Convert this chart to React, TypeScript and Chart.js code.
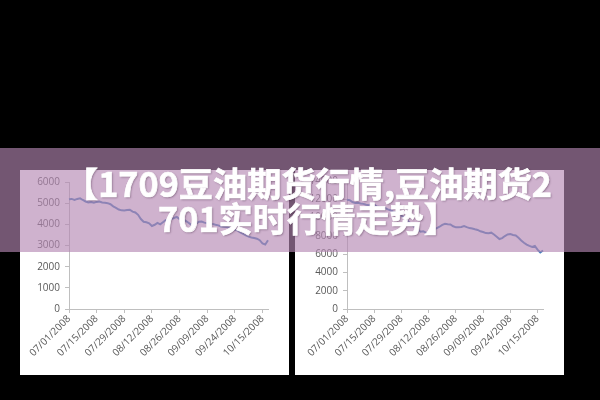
import React, { useEffect, useRef } from "react";
import { Chart, registerables } from "chart.js";

Chart.register(...registerables);

// trading days (category axis), a label is shown every 10th day
const tradingDates: string[] = [
  "07/01/2008", "07/02/2008", "07/03/2008", "07/04/2008", "07/07/2008", "07/08/2008", "07/09/2008", "07/10/2008", "07/11/2008", "07/14/2008",
  "07/15/2008", "07/16/2008", "07/17/2008", "07/18/2008", "07/21/2008", "07/22/2008", "07/23/2008", "07/24/2008", "07/25/2008", "07/28/2008",
  "07/29/2008", "07/30/2008", "07/31/2008", "08/01/2008", "08/04/2008", "08/05/2008", "08/06/2008", "08/07/2008", "08/08/2008", "08/11/2008",
  "08/12/2008", "08/13/2008", "08/14/2008", "08/15/2008", "08/18/2008", "08/19/2008", "08/20/2008", "08/21/2008", "08/22/2008", "08/25/2008",
  "08/26/2008", "08/27/2008", "08/28/2008", "08/29/2008", "09/01/2008", "09/02/2008", "09/03/2008", "09/04/2008", "09/05/2008", "09/08/2008",
  "09/09/2008", "09/10/2008", "09/11/2008", "09/12/2008", "09/16/2008", "09/17/2008", "09/18/2008", "09/19/2008", "09/22/2008", "09/23/2008",
  "09/24/2008", "09/25/2008", "09/26/2008", "10/06/2008", "10/07/2008", "10/08/2008", "10/09/2008", "10/10/2008", "10/13/2008", "10/14/2008",
  "10/15/2008", "10/16/2008", "10/17/2008",
];

// left chart series (0 - 6000)
const leftSeries: number[] = [
  5180, 5200, 5150, 5200, 5230, 5150, 5080, 5030, 5050, 5020,
  5060, 5080, 5030, 5020, 5000, 4950, 4850, 4780, 4700, 4660,
  4650, 4680, 4690, 4600, 4560, 4450, 4250, 4120, 4100, 4050,
  3920, 3980, 4070, 4000, 4100, 4200, 4180, 4250, 4300, 4350,
  4250, 4200, 4180, 4100, 4000, 3970, 4050, 4120, 4130, 4080,
  4050, 4000, 4020, 3980, 3950, 3900, 3880, 3870, 3850, 3820,
  3750, 3700, 3620, 3550, 3480, 3420, 3380, 3350, 3320, 3250,
  3100, 3050, 3250,
];

// right chart series (0 - 14000)
const rightSeries: number[] = [
  11950, 11900, 11700, 11600, 11620, 11550, 11500, 11400, 11350, 11480,
  11400, 11200, 11150, 11000, 11050, 10900, 10800, 10650, 10550, 10400,
  10200, 10000, 9750, 9450, 9200, 8900, 8700, 8450, 8500, 8350,
  8300, 8400, 8700, 8850, 9000, 9200, 9320, 9280, 9250, 9050,
  8930, 8950, 8980, 9080, 8950, 8850, 8800, 8720, 8650, 8500,
  8420, 8300, 8280, 8350, 8150, 7910, 7650, 7750, 7980, 8150,
  8200, 8100, 8050, 7800, 7500, 7250, 7050, 6900, 6800, 6900,
  6500, 6180, 6400,
];

const leftYMax = 6000;
const leftYStep = 1000;
const rightYMax = 14000;
const rightYStep = 2000;
const labelEvery = 10;

const titleLine1 = "【1709豆油期货行情,豆油期货2";
const titleLine2 = "701实时行情走势】";

const AXIS = "#bfbfbf";
const TEXT = "#595959";
const LINE = "#4a7ebb";
const tickFont = { family: "'Open Sans', sans-serif", size: 10 };

function Panel(props: { left: number; values: number[]; yMax: number; yStep: number; yWidth: number; padRight: number; padTop: number }) {
  const ref = useRef<HTMLCanvasElement | null>(null);
  const { values, yMax, yStep, yWidth, padRight, padTop } = props;
  useEffect(() => {
    if (!ref.current) return;
    const chart = new Chart(ref.current, {
      type: "line",
      data: {
        labels: tradingDates,
        datasets: [
          {
            data: values,
            borderColor: LINE,
            borderWidth: 2,
            pointRadius: 0,
            tension: 0,
            fill: false,
          },
        ],
      },
      options: {
        responsive: false,
        animation: false,
        events: [],
        layout: { padding: { top: padTop, right: padRight, left: 0, bottom: 0 } },
        plugins: { legend: { display: false }, tooltip: { enabled: false } },
        scales: {
          x: {
            type: "category",
            offset: false,
            grid: {
              drawOnChartArea: false,
              drawTicks: true,
              tickLength: 4,
              color: (c: any) => (c.index % labelEvery === 0 ? AXIS : "rgba(0,0,0,0)"),
            },
            border: { color: AXIS, width: 1 },
            ticks: {
              autoSkip: false,
              minRotation: 45,
              maxRotation: 45,
              padding: 0,
              color: TEXT,
              font: tickFont,
              callback: (_v: any, i: number) => (i % labelEvery === 0 ? tradingDates[i] : ""),
            },
            afterFit: (s: any) => {
              s.height = 66;
            },
          },
          y: {
            min: 0,
            max: yMax,
            grid: { drawOnChartArea: false, drawTicks: true, tickLength: 4, color: AXIS },
            border: { color: AXIS, width: 1 },
            ticks: {
              stepSize: yStep,
              padding: 5,
              color: TEXT,
              font: tickFont,
              callback: (v: any) => String(v),
            },
            afterFit: (s: any) => {
              s.width = yWidth;
            },
          },
        },
      } as any,
    });
    return () => chart.destroy();
  }, []);
  return (
    <div
      style={{
        position: "absolute",
        left: props.left,
        top: 170,
        width: 269,
        height: 205,
        background: "#ffffff",
      }}
    >
      <canvas ref={ref} width={269} height={205} style={{ width: 269, height: 205, display: "block" }} />
    </div>
  );
}

export default function App() {
  return (
    <div
      style={{
        position: "fixed",
        left: 0,
        top: 0,
        width: 600,
        height: 400,
        background: "#000000",
        overflow: "hidden",
      }}
    >
      <Panel left={20} values={leftSeries} yMax={leftYMax} yStep={leftYStep} yWidth={49} padRight={21} padTop={12} />
      <Panel left={295} values={rightSeries} yMax={rightYMax} yStep={rightYStep} yWidth={52} padRight={21} padTop={11} />
      <div
        style={{
          position: "absolute",
          left: 0,
          top: 148,
          width: 600,
          height: 104,
          background: "rgba(180,134,178,0.64)",
          display: "flex",
          alignItems: "center",
          justifyContent: "center",
          boxSizing: "border-box",
          paddingLeft: 16,
        }}
      >
        <div
          style={{
            color: "#ffffff",
            fontFamily: "'Noto Sans CJK SC', sans-serif",
            fontWeight: 700,
            fontSize: 34.2,
            lineHeight: "35px",
            textAlign: "center",
            whiteSpace: "nowrap",
            WebkitTextStroke: "0.7px #ffffff",
            textShadow: "1px 1px 2px rgba(60,30,60,0.45)",
          }}
        >
          {titleLine1}
          <br />
          {titleLine2}
        </div>
      </div>
    </div>
  );
}
